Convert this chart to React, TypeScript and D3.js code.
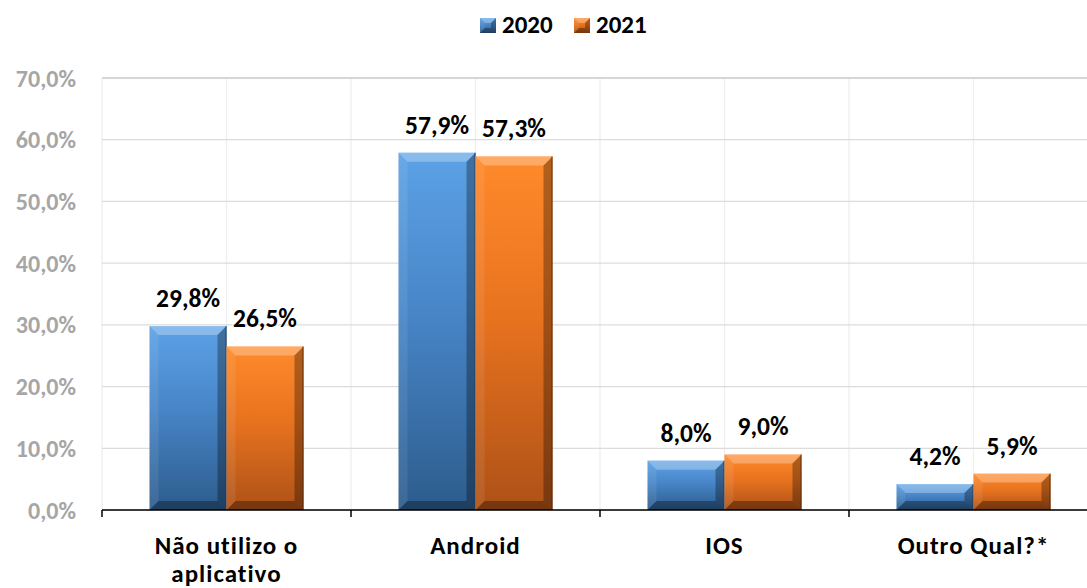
import React from "react";
import * as d3 from "d3";

const categories = ["Não utilizo o\naplicativo", "Android", "IOS", "Outro Qual?*"];
const seriesNames = ["2020", "2021"];
const values2020 = [29.8, 57.9, 8.0, 4.2];
const values2021 = [26.5, 57.3, 9.0, 5.9];
const yTicks = [0, 10, 20, 30, 40, 50, 60, 70];

const W = 1087;
const H = 588;
const FONT = "Carlito, Lato, 'Open Sans', sans-serif";

const palettes: Record<string, { top: string; mid: string; bottom: string; edge: string }> = {
  "2020": { top: "#5ca2e6", mid: "#4785c7", bottom: "#2d5c8c", edge: "#1d3d5e" },
  "2021": { top: "#ff8a2b", mid: "#e8731f", bottom: "#ae5117", edge: "#5a2a0a" },
};

const fmt = (v: number) => v.toFixed(1).replace(".", ",") + "%";

export default function App() {
  if (typeof document !== "undefined") document.body.style.margin = "0";
  const x = d3.scaleBand<string>().domain(categories).range([102, 1098]).paddingInner(0).paddingOuter(0);
  const xs = d3.scaleBand<string>().domain(seriesNames).range([0, x.bandwidth()]).paddingInner(0).paddingOuter(0.617);
  const y = d3.scaleLinear().domain([0, 70]).range([510, 78]);
  const series = [
    { name: "2020", values: values2020 },
    { name: "2021", values: values2021 },
  ];
  const half = x.bandwidth() / 2;
  const vLines: number[] = [];
  categories.forEach((c) => {
    vLines.push(x(c)!);
    vLines.push(x(c)! + half);
  });

  const bevel = (x0: number, y0: number, w: number, h: number, key: string, size = 9) => {
    const b = Math.min(size, h / 2, w / 2);
    const x1 = x0 + w;
    const y1 = y0 + h;
    const p = (pts: number[][]) => pts.map((q) => q.join(",")).join(" ");
    return (
      <g key={key}>
        <polygon points={p([[x0, y0], [x1, y0], [x1 - b, y0 + b], [x0 + b, y0 + b]])} fill="#ffffff" opacity={0.28} />
        <polygon points={p([[x0, y0], [x0 + b, y0 + b], [x0 + b, y1 - b], [x0, y1]])} fill="#ffffff" opacity={0.08} />
        <polygon points={p([[x1, y0], [x1, y1], [x1 - b, y1 - b], [x1 - b, y0 + b]])} fill="#000000" opacity={0.3} />
        <polygon points={p([[x0, y1], [x0 + b, y1 - b], [x1 - b, y1 - b], [x1, y1]])} fill="#000000" opacity={0.32} />
      </g>
    );
  };

  return (
    <svg width={W} height={H} style={{ display: "block", background: "#fff" }} fontFamily={FONT}>
      <defs>
        {seriesNames.map((s) => (
          <linearGradient id={"g" + s} key={s} x1="0" y1="0" x2="0" y2="1">
            <stop offset="0%" stopColor={palettes[s].top} />
            <stop offset="45%" stopColor={palettes[s].mid} />
            <stop offset="100%" stopColor={palettes[s].bottom} />
          </linearGradient>
        ))}
      </defs>

      {/* gridlines */}
      {vLines.map((vx, i) => (
        <line key={"v" + i} x1={vx} x2={vx} y1={y(70)} y2={y(0)} stroke="#efefef" strokeWidth={1.3} />
      ))}
      {yTicks.map((t) => (
        <line key={"h" + t} x1={102} x2={W} y1={y(t)} y2={y(t)} stroke={t === 70 ? "#d6d6d6" : "#dcdcdc"} strokeWidth={t === 70 ? 1.8 : 1.3} />
      ))}

      {/* y tick labels */}
      {yTicks.map((t) => (
        <text key={"yl" + t} x={76} y={y(t)} dy="0.36em" textAnchor="end" fontSize={24} fontWeight={700} fill="#a6a6a6">
          {fmt(t)}
        </text>
      ))}

      {/* bars */}
      {series.map((s) =>
        s.values.map((v, i) => {
          const c = categories[i];
          const bx = x(c)! + xs(s.name)!;
          const bw = xs.bandwidth();
          const by = y(v);
          const bh = y(0) - y(v);
          return (
            <g key={s.name + i}>
              <rect x={bx} y={by} width={bw} height={bh} fill={`url(#g${s.name})`} />
              {bevel(bx, by, bw, bh, "b")}
              <line x1={bx + bw - 0.5} x2={bx + bw - 0.5} y1={by} y2={by + bh} stroke={palettes[s.name].edge} strokeWidth={1} opacity={0.8} />
              <text x={bx + bw / 2} y={by - 19} textAnchor="middle" fontSize={25.5} fontWeight={700} fill="#000">
                {fmt(v)}
              </text>
            </g>
          );
        })
      )}

      {/* x axis */}
      <line x1={102} x2={W} y1={y(0)} y2={y(0)} stroke="#000" strokeWidth={1.5} />
      {categories.map((c) => (
        <line key={"t" + c} x1={x(c)!} x2={x(c)!} y1={y(0)} y2={y(0) + 7} stroke="#000" strokeWidth={1.5} />
      ))}
      {categories.map((c) =>
        c.split("\n").map((line, k) => (
          <text
            key={"c" + c + k}
            x={x(c)! + half}
            y={554 + k * 28}
            textAnchor="middle"
            fontSize={25}
            fontWeight={700}
            fill="#000"
            letterSpacing={1}
          >
            {line}
          </text>
        ))
      )}

      {/* legend */}
      {seriesNames.map((s, i) => {
        const lx = 480 + i * 94;
        return (
          <g key={"lg" + s}>
            <rect x={lx} y={18} width={16} height={15} fill={`url(#g${s})`} />
            {bevel(lx, 18, 16, 15, "lb", 5)}
            <text x={lx + 22} y={33} fontSize={25} fontWeight={700} fill="#000">
              {s}
            </text>
          </g>
        );
      })}
    </svg>
  );
}
